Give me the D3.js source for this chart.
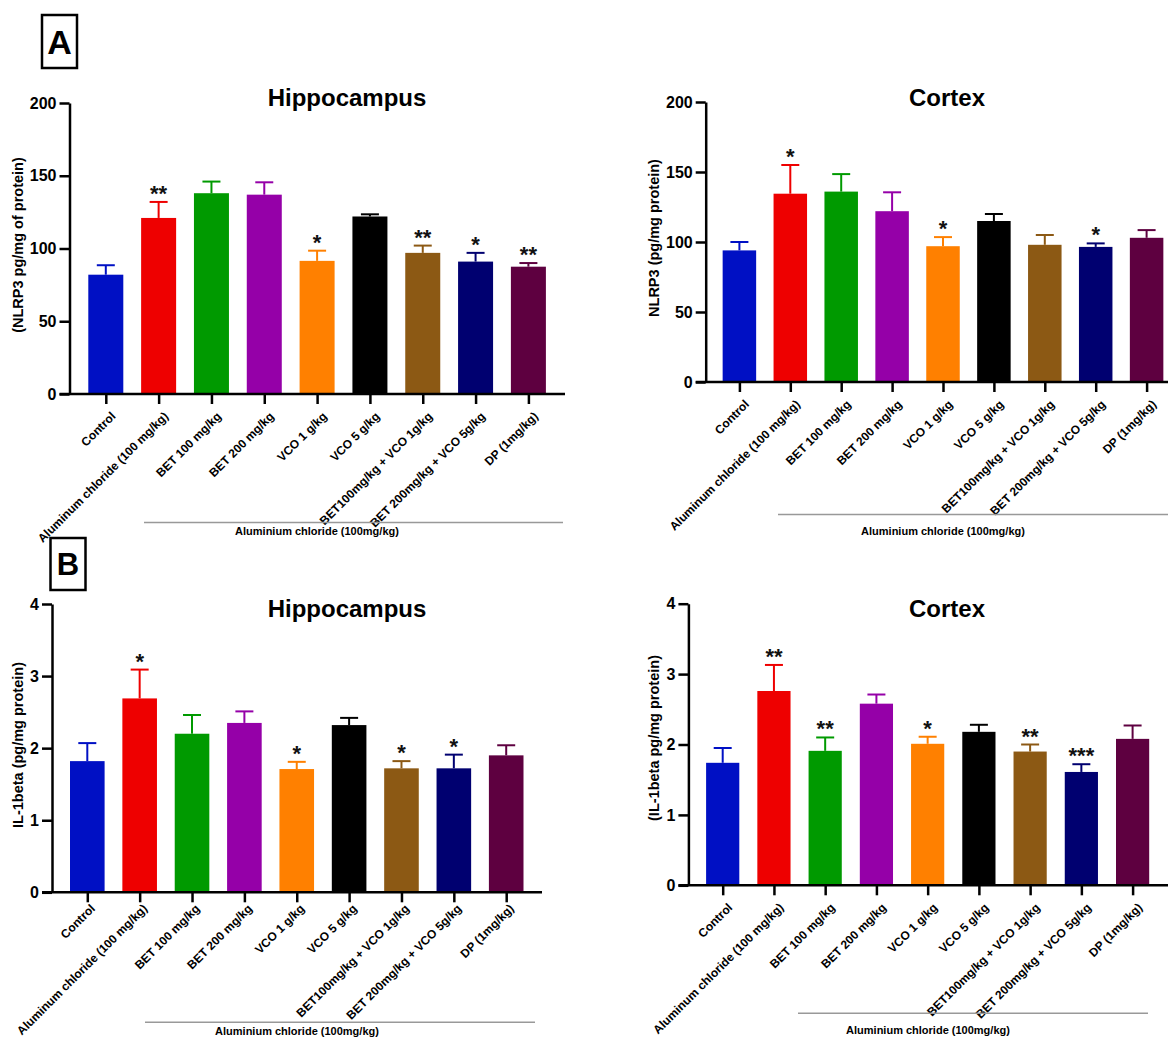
<!DOCTYPE html>
<html>
<head>
<meta charset="utf-8">
<script src="https://cdn.jsdelivr.net/npm/d3@7"></script>
<style>
  body { margin: 0; background: #fff; }
  text { font-family: "Liberation Sans", Arial, Helvetica, sans-serif; font-weight: bold; }
</style>
</head>
<body>
<script>
// canvas size
var w = 1168;
var h = 1037;

// groups on the x axis
var groups = ["Control", "Aluminum chloride (100 mg/kg)", "BET 100 mg/kg", "BET 200 mg/kg",
              "VCO 1 g/kg", "VCO 5 g/kg", "BET100mg/kg + VCO 1g/kg", "BET 200mg/kg + VCO 5g/kg", "DP (1mg/kg)"];
var barColors = ["#0010c4", "#ee0000", "#009a00", "#9500a8", "#ff8000", "#000000", "#8c5914", "#000070", "#5e0040"];

// NLRP3 - hippocampus
var nlrp3HippMean = [82, 121, 138, 137, 91.5, 122, 97, 91, 87.5];
var nlrp3HippSem  = [6.5, 11, 8, 8.5, 7, 1.5, 5, 6, 2.5];
var nlrp3HippSig  = ["", "**", "", "", "*", "", "**", "*", "**"];

// NLRP3 - cortex
var nlrp3CtxMean = [94, 134.5, 136, 122, 97, 115, 98, 96.5, 103];
var nlrp3CtxSem  = [6, 20.5, 12.5, 13.5, 6.5, 5, 7, 2.5, 5.5];
var nlrp3CtxSig  = ["", "*", "", "", "*", "", "", "*", ""];

// IL-1beta - hippocampus
var il1bHippMean = [1.82, 2.69, 2.2, 2.35, 1.71, 2.32, 1.72, 1.72, 1.9];
var il1bHippSem  = [0.25, 0.4, 0.26, 0.16, 0.1, 0.1, 0.1, 0.19, 0.14];
var il1bHippSig  = ["", "*", "", "", "*", "", "*", "*", ""];

// IL-1beta - cortex
var il1bCtxMean = [1.74, 2.76, 1.91, 2.58, 2.01, 2.18, 1.9, 1.61, 2.08];
var il1bCtxSem  = [0.21, 0.37, 0.19, 0.13, 0.1, 0.1, 0.1, 0.11, 0.19];
var il1bCtxSig  = ["", "**", "**", "", "*", "", "**", "***", ""];

// y tick values
var nlrp3Ticks = [0, 50, 100, 150, 200];
var il1bTicks  = [0, 1, 2, 3, 4];

var groupLabel = "Aluminium chloride (100mg/kg)";

var svg = d3.select("body")
            .append("svg")
            .attr("width", w)
            .attr("height", h);

var makePanel = function(p)
{
  var g = svg.append("g");
  var yScale = d3.scaleLinear()
                 .domain([0, p.ticks[p.ticks.length - 1]])
                 .range([p.y0, p.yTop]);
  var xScale = d3.scalePoint()
                 .domain(groups)
                 .range([p.c0, p.c1]);

  var rows = groups.map(function(d, i) {
    return { name: d, mean: p.mean[i], sem: p.sem[i], sig: p.sig[i], color: barColors[i] };
  });

  /**** bars ****/
  g.selectAll("rect.bar")
   .data(rows)
   .enter()
   .append("rect")
   .attr("class", "bar")
   .attr("x", function(d) { return xScale(d.name) - p.bw / 2; })
   .attr("y", function(d) { return yScale(d.mean); })
   .attr("width", p.bw)
   .attr("height", function(d) { return yScale(0) - yScale(d.mean); })
   .attr("fill", function(d) { return d.color; });

  /**** error bars (upper only) ****/
  var eb = g.selectAll("g.err").data(rows).enter().append("g").attr("class", "err");
  eb.append("line")
    .attr("x1", function(d) { return xScale(d.name); })
    .attr("x2", function(d) { return xScale(d.name); })
    .attr("y1", function(d) { return yScale(d.mean); })
    .attr("y2", function(d) { return yScale(d.mean + d.sem); })
    .attr("stroke", function(d) { return d.color; })
    .attr("stroke-width", 2);
  eb.append("line")
    .attr("x1", function(d) { return xScale(d.name) - 9; })
    .attr("x2", function(d) { return xScale(d.name) + 9; })
    .attr("y1", function(d) { return yScale(d.mean + d.sem); })
    .attr("y2", function(d) { return yScale(d.mean + d.sem); })
    .attr("stroke", function(d) { return d.color; })
    .attr("stroke-width", 2);

  /**** significance stars ****/
  g.selectAll("text.sig")
   .data(rows)
   .enter()
   .append("text")
   .attr("class", "sig")
   .attr("x", function(d) { return xScale(d.name); })
   .attr("y", function(d) { return yScale(d.mean + d.sem) - 1; })
   .attr("text-anchor", "middle")
   .attr("font-size", "22px")
   .attr("fill", "#111")
   .text(function(d) { return d.sig; });

  /**** axes ****/
  var yAxis = d3.axisLeft(yScale)
                .tickValues(p.ticks)
                .tickSize(10)
                .tickSizeOuter(0)
                .tickPadding(3)
                .tickFormat(d3.format("d"));
  var ya = g.append("g")
            .attr("transform", "translate(" + p.ax + ",0)")
            .call(yAxis);
  ya.selectAll("line").attr("stroke-width", 2.5);
  ya.select(".domain").attr("stroke-width", 2.5);
  ya.selectAll("text").attr("font-size", "16px").attr("fill", "#000");

  var xAxis = d3.axisBottom(xScale)
                .tickSize(10)
                .tickSizeOuter(0);
  var xa = g.append("g")
            .attr("transform", "translate(0," + p.y0 + ")")
            .call(xAxis);
  xa.select(".domain").remove();
  xa.selectAll("line").attr("stroke-width", 2.5);
  xa.selectAll("text")
    .attr("x", 0)
    .attr("y", 0)
    .attr("dy", "0.35em")
    .attr("font-size", "12px")
    .attr("fill", "#000")
    .attr("text-anchor", "end")
    .attr("transform", "translate(" + p.lx + "," + p.ly + ") rotate(-45)");
  g.append("line")
   .attr("x1", p.ax - 10)
   .attr("x2", p.axEnd)
   .attr("y1", p.y0)
   .attr("y2", p.y0)
   .attr("stroke", "#000")
   .attr("stroke-width", 2.5);

  /**** titles ****/
  g.append("text")
   .attr("x", p.titleX)
   .attr("y", p.titleY)
   .attr("text-anchor", "middle")
   .attr("font-size", "24px")
   .text(p.title);

  g.append("text")
   .attr("transform", "translate(" + p.ylx + "," + p.yly + ") rotate(-90)")
   .attr("text-anchor", "middle")
   .attr("dy", "0.35em")
   .attr("font-size", "14.5px")
   .text(p.ylabel);

  /**** grouping line ****/
  g.append("line")
   .attr("x1", p.gx1)
   .attr("x2", p.gx2)
   .attr("y1", p.gy)
   .attr("y2", p.gy)
   .attr("stroke", "#999")
   .attr("stroke-width", 1.5);
  g.append("text")
   .attr("x", p.gtx)
   .attr("y", p.gty)
   .attr("text-anchor", "middle")
   .attr("font-size", "11px")
   .text(groupLabel);
};

makePanel({ mean: nlrp3HippMean, sem: nlrp3HippSem, sig: nlrp3HippSig, ticks: nlrp3Ticks,
            ax: 69.5, axEnd: 565, c0: 105.8, c1: 528.4, y0: 394, yTop: 103, bw: 35,
            lx: 7, ly: 20,
            title: "Hippocampus", titleX: 347, titleY: 106,
            ylabel: "(NLRP3 pg/mg of protein)", ylx: 18, yly: 245,
            gx1: 144, gx2: 563, gy: 522.5, gtx: 317, gty: 535 });

makePanel({ mean: nlrp3CtxMean, sem: nlrp3CtxSem, sig: nlrp3CtxSig, ticks: nlrp3Ticks,
            ax: 705.7, axEnd: 1168, c0: 739.4, c1: 1146.6, y0: 382, yTop: 102, bw: 33.5,
            lx: 7, ly: 20,
            title: "Cortex", titleX: 947, titleY: 106,
            ylabel: "NLRP3 (pg/mg protein)", ylx: 654, yly: 238,
            gx1: 778, gx2: 1168, gy: 514.5, gtx: 943, gty: 535 });

makePanel({ mean: il1bHippMean, sem: il1bHippSem, sig: il1bHippSig, ticks: il1bTicks,
            ax: 52, axEnd: 542, c0: 87.3, c1: 506.2, y0: 892.3, yTop: 604, bw: 34.6,
            lx: 5, ly: 14,
            title: "Hippocampus", titleX: 347, titleY: 617,
            ylabel: "IL-1beta (pg/mg protein)", ylx: 18, yly: 745,
            gx1: 145, gx2: 535, gy: 1022.3, gtx: 297, gty: 1035 });

makePanel({ mean: il1bCtxMean, sem: il1bCtxSem, sig: il1bCtxSig, ticks: il1bTicks,
            ax: 688.4, axEnd: 1168, c0: 722.7, c1: 1132.6, y0: 885.3, yTop: 603.7, bw: 33.2,
            lx: 7, ly: 20,
            title: "Cortex", titleX: 947, titleY: 617,
            ylabel: "(IL-1beta pg/mg protein)", ylx: 654, yly: 738,
            gx1: 798, gx2: 1148, gy: 1013.3, gtx: 928, gty: 1034 });

/**** panel letters ****/
var letters = [
  { t: "A", x: 42, y: 15, bw: 35, bh: 53, fs: 34 },
  { t: "B", x: 50.5, y: 538, bw: 35, bh: 52, fs: 31 }
];
letters.forEach(function(l) {
  svg.append("rect")
     .attr("x", l.x).attr("y", l.y)
     .attr("width", l.bw).attr("height", l.bh)
     .attr("fill", "none").attr("stroke", "#000").attr("stroke-width", 2.5);
  svg.append("text")
     .attr("x", l.x + l.bw / 2)
     .attr("y", l.y + l.bh / 2)
     .attr("dy", "0.36em")
     .attr("text-anchor", "middle")
     .attr("font-size", l.fs + "px")
     .text(l.t);
});
</script>
</body>
</html>
